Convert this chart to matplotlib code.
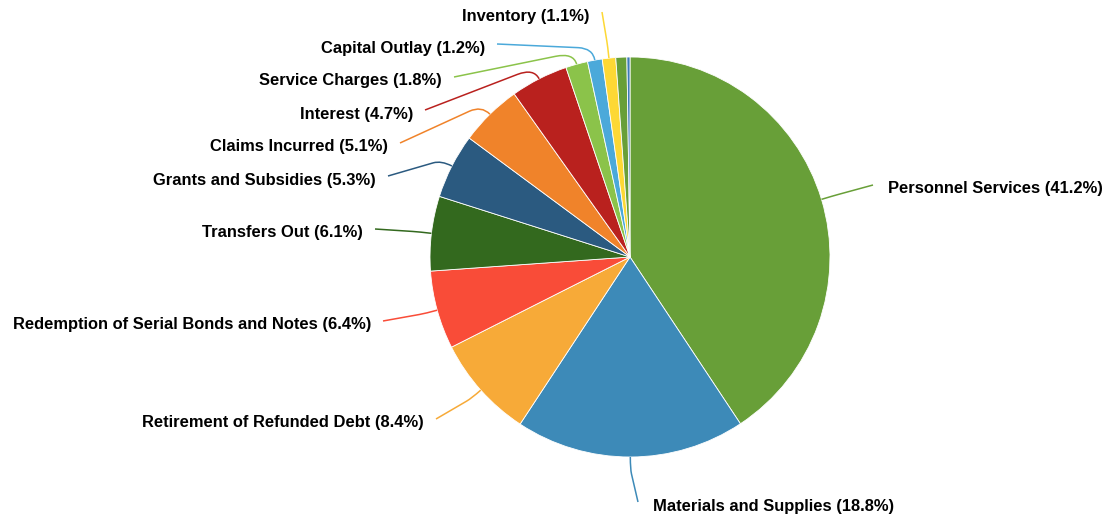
import numpy as np
import matplotlib.pyplot as plt
from matplotlib.path import Path
from matplotlib.patches import PathPatch

# Expense categories and their shares (percent), clockwise from 12 o'clock
categories = [
    "Personnel Services", "Materials and Supplies", "Retirement of Refunded Debt",
    "Redemption of Serial Bonds and Notes", "Transfers Out", "Grants and Subsidies",
    "Claims Incurred", "Interest", "Service Charges", "Capital Outlay", "Inventory",
    "Other", "Miscellaneous",
]
shares = [41.2, 18.8, 8.4, 6.4, 6.1, 5.3, 5.1, 4.7, 1.8, 1.2, 1.1, 0.9, 0.25]
colors = [
    "#689f38", "#3d8ab8", "#f7aa38", "#f94c38", "#33691e", "#2b5a80",
    "#f0832a", "#b9211e", "#8bc34a", "#4ba9da", "#fdd835", "#689f38", "#3d7ab8",
]

# label anchor points in pixels from the top-left corner (None = no label)
label_pos = [
    (888, 189), (653, 506), (424, 423), (371, 325), (363, 233), (376, 180),
    (388, 147), (413, 114), (442, 81), (485, 48), (590, 16), None, None,
]

W, H = 1109, 521
cx, cy, r = 630, H - 257, 200

fig = plt.figure(figsize=(W / 100, H / 100), dpi=100)
ax = fig.add_axes([0, 0, 1, 1])

wedges, _ = ax.pie(shares, colors=colors, startangle=90, counterclock=False,
                   center=(cx, cy), radius=r,
                   wedgeprops=dict(edgecolor="white", linewidth=0.6))
ax.set_xlim(0, W)
ax.set_ylim(0, H)
ax.set_aspect("auto")
ax.axis("off")

for w, name, val, col, pos in zip(wedges, categories, shares, colors, label_pos):
    if pos is None:
        continue
    mid = np.deg2rad((w.theta1 + w.theta2) / 2)
    ux, uy = np.cos(mid), np.sin(mid)
    edge = (cx + r * ux, cy + r * uy)
    elbow = (cx + (r + 12) * ux, cy + (r + 12) * uy)
    lx, ly = pos[0], H - pos[1]
    right_side = lx > cx and name != "Inventory"
    if right_side:
        ha, end = "left", (lx - 15, ly + 4)
    else:
        ha, end = "right", (lx + 12, ly + 4)
    a = (end[0] + 0.85 * (elbow[0] - end[0]), end[1] + 0.85 * (elbow[1] - end[1]))
    path = Path([end, a, elbow, edge],
                [Path.MOVETO, Path.LINETO, Path.CURVE3, Path.CURVE3])
    ax.add_patch(PathPatch(path, facecolor="none", edgecolor=col, linewidth=1.1))
    ax.text(lx, ly, f"{name} ({val:.1f}%)", ha=ha, va="center",
            fontsize=11.9, fontweight="bold", family="Liberation Sans", color="black")

fig.savefig("out.png", dpi=100, facecolor="white")
